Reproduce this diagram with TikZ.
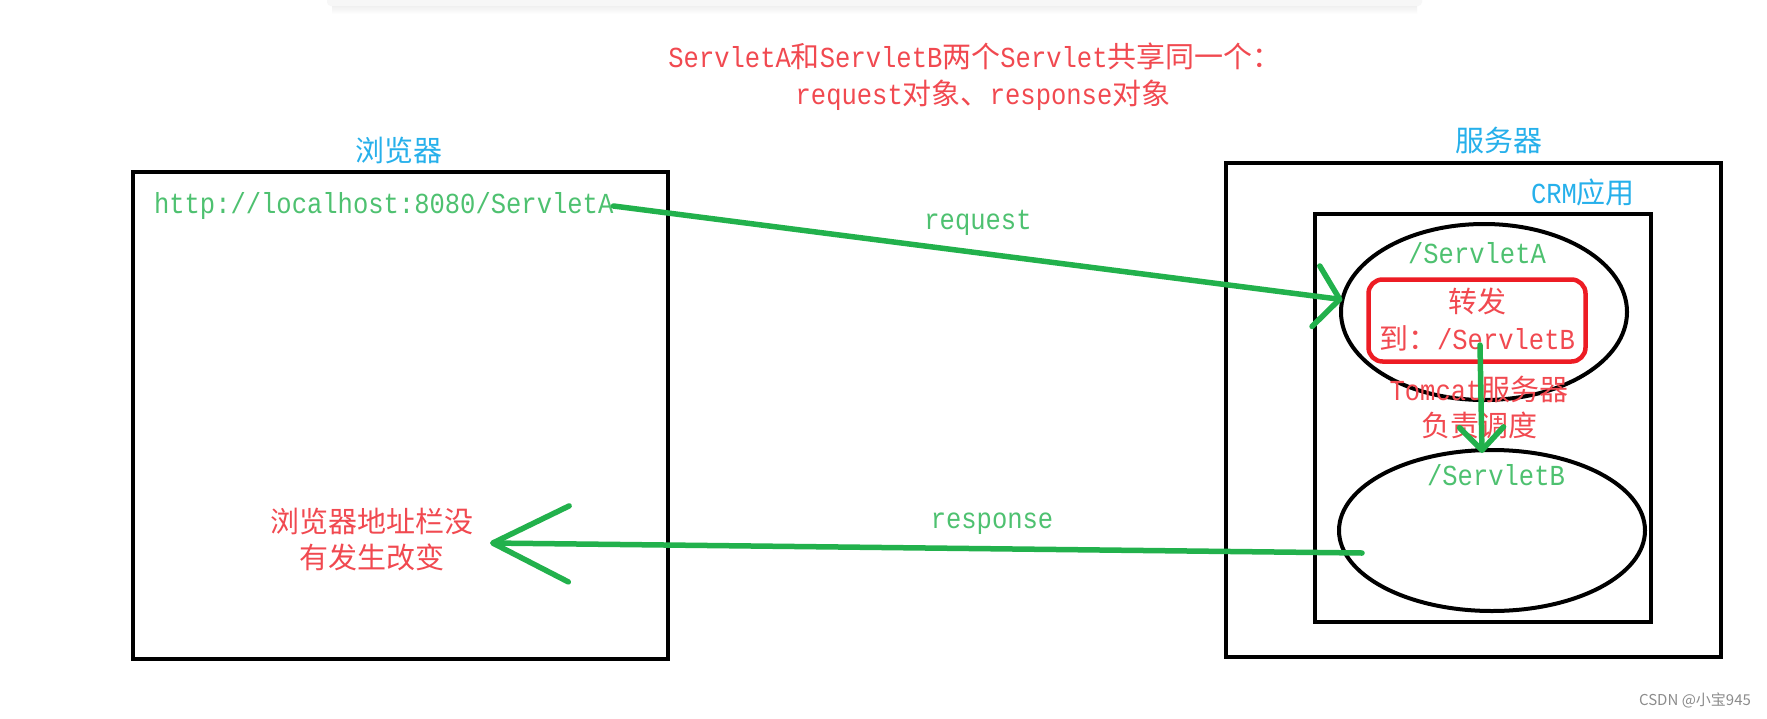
\documentclass[tikz,border=0pt]{standalone}
\usepackage{fontspec}
\setmainfont[FakeStretch=0.88]{Liberation Mono}
\newfontfamily\cjkf{Noto Sans CJK SC}
\newfontfamily\wmf{Noto Sans CJK SC}
\usetikzlibrary{arrows.meta,shapes.geometric}
\newcommand\zh[1]{{\cjkf #1}}
\definecolor{pgreen}{HTML}{22B14C}
\definecolor{pred}{HTML}{ED1C24}
\definecolor{pblue}{HTML}{00A2E8}
\colorlet{tgreen}{pgreen!80!white}
\colorlet{tred}{pred!80!white}
\colorlet{tblue}{pblue!85!white}
\begin{document}
\begin{tikzpicture}[x=1pt,y=-1pt,
  every node/.style={inner sep=0pt, outer sep=0pt},
  txt/.style={font=\fontsize{29}{37}\selectfont, align=center},
  gtxt/.style={txt, text=tgreen},
  rtxt/.style={txt, text=tred},
  btxt/.style={txt, text=tblue},
  blackbox/.style={draw=black, line width=4.5pt, rectangle},
  oval/.style={draw=black, line width=4pt, ellipse},
  redbox/.style={draw=pred, line width=4.5pt, rectangle, rounded corners=14pt},
  garrow/.style={draw=pgreen, line width=5.5pt, line cap=round}
]
\useasboundingbox (0,0) rectangle (1767,718);
\fill[white] (0,0) rectangle (1767,718);
% top shadow
\fill[black!3, rounded corners=4pt] (327,-6) rectangle (1422,6);
\shade[top color=black!6, bottom color=white] (332,6) rectangle (1417,14);

% boxes
\node[blackbox, minimum width=535pt, minimum height=487pt] (browser) at (400.5,415.5) {};
\node[blackbox, minimum width=495pt, minimum height=494pt] (server) at (1473.5,410) {};
\node[blackbox, minimum width=336pt, minimum height=408pt] (crm) at (1483,418) {};
\node[oval, minimum width=286pt, minimum height=176pt] (eA) at (1484,312) {};
\node[oval, minimum width=306pt, minimum height=161pt] (eB) at (1492,530.5) {};
\node[redbox, minimum width=217pt, minimum height=82pt] (fwd) at (1477,320.5) {};

% texts
\node[rtxt] (t1) at (975,56) {ServletA\zh{和}ServletB\zh{两个}Servlet\zh{共享同一个：}};
\node[rtxt] (t2) at (983,95) {request\zh{对象、}response\zh{对象}};
\node[btxt] (lbB) at (399,150) {\zh{浏览器}};
\node[gtxt, anchor=west] (url) at (154,206) {http://localhost:8080/ServletA};
\node[gtxt] (lreq) at (978,223) {request};
\node[btxt] (lbS) at (1499,140) {\zh{服务器}};
\node[btxt] (lbC) at (1583,192) {CRM\zh{应用}};
\node[gtxt] (sa) at (1477,253) {/ServletA};
\node[rtxt] (f1) at (1477,301) {\zh{转发}};
\node[rtxt] (f2) at (1477,338) {\zh{到：}/ServletB};
\node[rtxt] (tc1) at (1479,389) {Tomcat\zh{服务器}};
\node[rtxt] (tc2) at (1479,425) {\zh{负责调度}};
\node[gtxt] (sb) at (1496,475) {/ServletB};
\node[gtxt] (lresp) at (992,524) {response};
\node[rtxt] (nb1) at (372,521) {\zh{浏览器地址栏没}};
\node[rtxt] (nb2) at (372,557) {\zh{有发生改变}};
\node[text=black!45, font=\wmf\fontsize{15}{18}\selectfont] (wm) at (1695,700) {CSDN @小宝945};

% connectors
\coordinate (ds) at (1480,345);
\coordinate (dt) at (1482,453);
\coordinate (rs) at (1362,553);
\coordinate (rt) at (490,543);
\draw[garrow, -{Straight Barb[length=24pt,width=61pt,round]}] (url.east) -- (eA.175);
\draw[garrow, -{Straight Barb[length=23pt,width=44pt,round]}] (ds) -- (dt);
\draw[garrow, -{Straight Barb[length=76pt,width=76pt,round]}] (rs) -- (rt);
\end{tikzpicture}
\end{document}
